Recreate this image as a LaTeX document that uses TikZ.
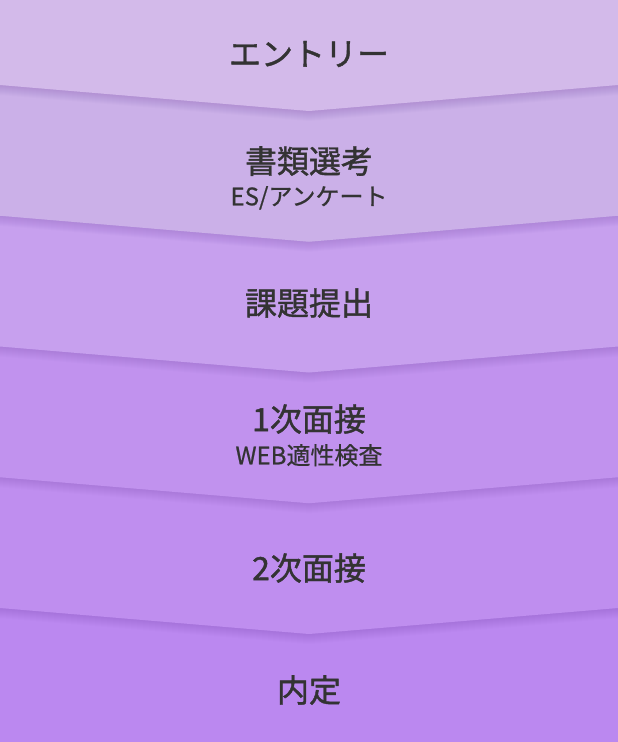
\documentclass[tikz,border=0pt]{standalone}
\usepackage{fontspec}
\newfontfamily\jptitle[FakeBold=1.3]{Noto Sans CJK JP}
\newfontfamily\jpsub[FakeBold=0.7]{Noto Sans CJK JP}
\usetikzlibrary{positioning}

\definecolor{band1}{HTML}{D3BAEA}
\definecolor{band2}{HTML}{CBB0E8}
\definecolor{band3}{HTML}{C7A0EE}
\definecolor{band4}{HTML}{C192EE}
\definecolor{band5}{HTML}{BF8EEF}
\definecolor{band6}{HTML}{BB88F0}
\definecolor{ink}{HTML}{333333}
\definecolor{dropshade}{HTML}{6A3FA8}

\begin{document}
\begin{tikzpicture}[
            x=1pt, y=-1pt,
            steptitle/.style={font=\jptitle\fontsize{32}{38}\selectfont, text=ink, inner sep=0pt},
            stepnote/.style={font=\jpsub\fontsize{24}{29}\selectfont, text=ink, inner sep=0pt}
        ]
        \useasboundingbox (0,0) rectangle (618,742);
        % Last step fills the page
        \fill[band6] (0,0) rectangle (618,742);
        % Steps from bottom to top, each with a soft shadow under its point
        \foreach \i/\c in {5/band5, 4/band4, 3/band3, 2/band2, 1/band1} {
                \pgfmathsetmacro{\s}{85+130.75*(\i-1)}
                \foreach \d in {1,...,10} {
                        \fill[dropshade, opacity=0.025]
                            (0,0) -- (618,0) -- (618,\s+\d) -- (309,\s+26+\d) -- (0,\s+\d) -- cycle;
                    }
                \fill[\c] (0,0) -- (618,0) -- (618,\s) -- (309,\s+26) -- (0,\s) -- cycle;
            }

        % Step labels
        \node[steptitle] (entry) at (309,54) {エントリー};
        \node[steptitle] (docs) at (309,161) {書類選考};
        \node[stepnote, below=10pt of docs] (docsnote) {ES/アンケート};
        \node[steptitle] (task) at (309,303) {課題提出};
        \node[steptitle] (first) at (309,419) {1次面接};
        \node[stepnote, below=10pt of first] (firstnote) {WEB適性検査};
        \node[steptitle] (second) at (309,568) {2次面接};
        \node[steptitle] (offer) at (309,690) {内定};
    \end{tikzpicture}
\end{document}
